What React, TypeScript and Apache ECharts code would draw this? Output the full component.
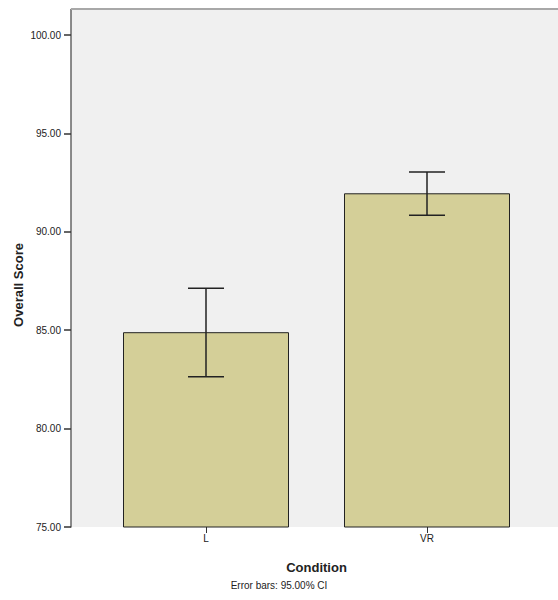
import React, { useEffect, useRef } from "react";
import * as echarts from "echarts";

const categories = ["L", "VR"];
const meanScores = [84.9, 91.96];
const ciLower = [82.64, 90.84];
const ciUpper = [87.13, 93.04];
const yTicks = [75, 80, 85, 90, 95, 100];

const FONT = "'Liberation Sans', Arial, sans-serif";

export default function App() {
  const ref = useRef<HTMLDivElement>(null);
  useEffect(() => {
    if (!ref.current) return;
    const chart = echarts.init(ref.current, null, { renderer: "svg" });
    const yMin = 75;
    const yMax = 101.3;
    const top = 9.5;
    const bottom = 73;
    chart.setOption({
      animation: false,
      backgroundColor: "#ffffff",
      textStyle: { fontFamily: FONT },
      grid: [
        { left: 71, right: 0, top, bottom, show: true, backgroundColor: "#f0f0f0", borderWidth: 0 },
        { left: 95.5, right: 20.5, top, bottom, show: false },
      ],
      xAxis: [
        { type: "value", gridIndex: 0, show: false, min: 0, max: 1 },
        {
          type: "category",
          gridIndex: 1,
          data: categories,
          axisLine: { show: false },
          axisTick: { show: true, alignWithLabel: true, length: 6, lineStyle: { color: "#333", width: 1 } },
          axisLabel: { color: "#222", fontSize: 10, margin: 6, fontFamily: FONT },
          name: "Condition",
          nameLocation: "middle",
          nameGap: 34,
          nameTextStyle: { color: "#222", fontSize: 13, fontWeight: "bold", fontFamily: FONT },
        },
      ],
      yAxis: [
        {
          type: "value",
          gridIndex: 0,
          min: yMin,
          max: yMax,
          interval: 5,
          axisLine: { show: true, lineStyle: { color: "#666", width: 1.5 } },
          axisTick: { show: true, length: 7, customValues: yTicks, lineStyle: { color: "#333", width: 1.5 } },
          axisLabel: {
            customValues: yTicks,
            color: "#222",
            fontSize: 10,
            margin: 10,
            fontFamily: FONT,
            formatter: (v: number) => v.toFixed(2),
          },
          splitLine: { show: false },
        },
        { type: "value", gridIndex: 1, min: yMin, max: yMax, show: false },
      ],
      series: [
        {
          type: "bar",
          xAxisIndex: 1,
          yAxisIndex: 1,
          data: meanScores,
          barWidth: 166,
          itemStyle: { color: "#d4cf98", borderColor: "#222", borderWidth: 1 },
        },
        {
          type: "custom",
          xAxisIndex: 1,
          yAxisIndex: 1,
          data: categories.map((c, i) => [i, ciLower[i], ciUpper[i]]),
          renderItem: (params: any, api: any) => {
            const x = api.value(0);
            const lo = api.coord([x, api.value(1)]);
            const hi = api.coord([x, api.value(2)]);
            const half = 18;
            const style = { stroke: "#222", lineWidth: 1.5 };
            return {
              type: "group",
              children: [
                { type: "line", shape: { x1: lo[0], y1: lo[1], x2: hi[0], y2: hi[1] }, style },
                { type: "line", shape: { x1: hi[0] - half, y1: hi[1], x2: hi[0] + half, y2: hi[1] }, style },
                { type: "line", shape: { x1: lo[0] - half, y1: lo[1], x2: lo[0] + half, y2: lo[1] }, style },
              ],
            };
          },
          z: 5,
        },
      ],
      graphic: [
        {
          type: "line",
          shape: { x1: 71, y1: 9, x2: 558, y2: 9 },
          style: { stroke: "#a8a8a8", lineWidth: 2 },
          z: 10,
        },
        {
          type: "text",
          x: 18,
          y: 285,
          rotation: Math.PI / 2,
          style: {
            text: "Overall Score",
            fill: "#222",
            font: `bold 13px ${FONT}`,
            textAlign: "center",
            textVerticalAlign: "middle",
          },
        },
        {
          type: "text",
          x: 279,
          y: 585,
          style: {
            text: "Error bars: 95.00% CI",
            fill: "#222",
            font: `10px ${FONT}`,
            textAlign: "center",
            textVerticalAlign: "middle",
          },
        },
      ],
    });
    return () => chart.dispose();
  }, []);
  return <div ref={ref} style={{ width: 558, height: 600, position: "absolute", left: 0, top: 0 }} />;
}
